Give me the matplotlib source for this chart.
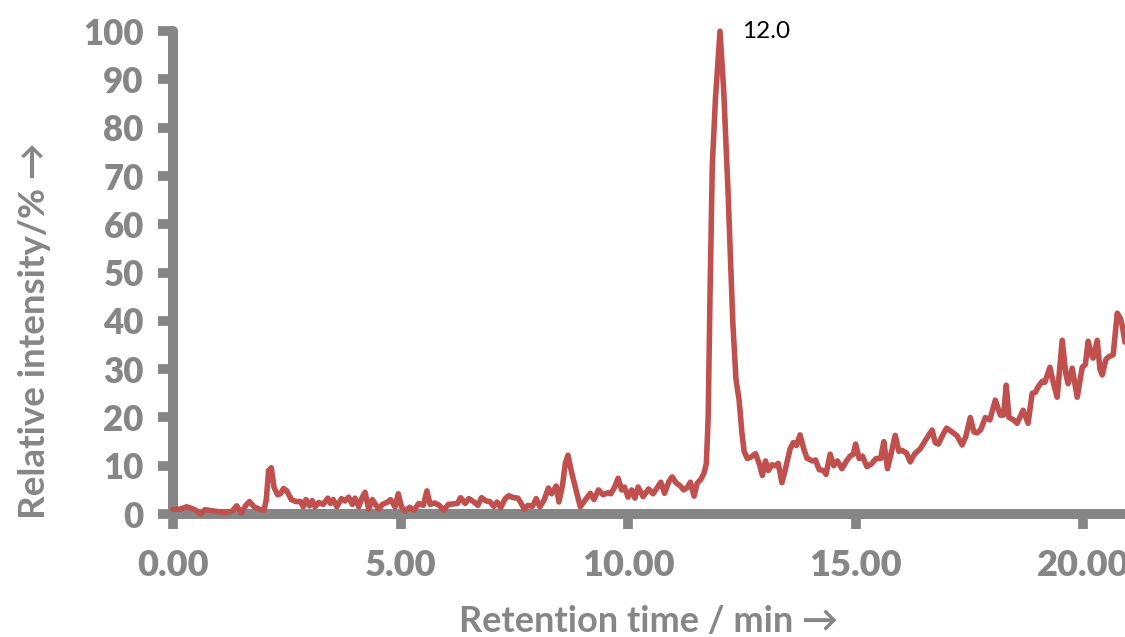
"""Chromatogram: relative intensity vs retention time."""

import matplotlib
matplotlib.use("Agg")
import matplotlib.pyplot as plt

# retention time (min) and relative intensity (%)
rt = [
    0.0, 0.15, 0.3, 0.4, 0.5, 0.6, 0.7, 0.85, 1.0, 1.15, 1.3, 1.4, 1.5, 1.6, 1.68, 1.78,
    1.9, 2.0, 2.05, 2.1, 2.16, 2.22, 2.3, 2.36, 2.43, 2.5, 2.6, 2.7, 2.8, 2.86, 2.92,
    3.0, 3.06, 3.12, 3.2, 3.3, 3.4, 3.46, 3.52, 3.6, 3.7, 3.78, 3.86, 3.94, 4.0, 4.08,
    4.15, 4.22, 4.3, 4.38, 4.45, 4.52, 4.6, 4.7, 4.78, 4.88, 4.95, 5.02, 5.1, 5.2, 5.3,
    5.4, 5.5, 5.58, 5.65, 5.75, 5.85, 5.95, 6.05, 6.15, 6.25, 6.32, 6.42, 6.5, 6.6, 6.7,
    6.78, 6.88, 6.96, 7.05, 7.12, 7.2, 7.3, 7.38, 7.48, 7.58, 7.65, 7.72, 7.8, 7.9, 7.98,
    8.06, 8.15, 8.25, 8.32, 8.42, 8.48, 8.56, 8.62, 8.68, 8.75, 8.85, 8.95, 9.05, 9.17,
    9.25, 9.35, 9.45, 9.55, 9.62, 9.7, 9.78, 9.86, 9.92, 10.0, 10.08, 10.15, 10.22,
    10.33, 10.45, 10.55, 10.65, 10.72, 10.8, 10.9, 10.97, 11.05, 11.15, 11.22, 11.3,
    11.37, 11.45, 11.52, 11.6, 11.67, 11.72, 11.76, 11.8, 11.85, 11.92, 12.02, 12.1,
    12.2, 12.3, 12.37, 12.44, 12.5, 12.55, 12.62, 12.7, 12.8, 12.88, 12.95, 13.02, 13.08,
    13.16, 13.24, 13.3, 13.38, 13.45, 13.56, 13.63, 13.7, 13.78, 13.86, 13.93, 14.05,
    14.12, 14.2, 14.3, 14.35, 14.44, 14.52, 14.6, 14.7, 14.8, 14.88, 14.95, 15.0, 15.08,
    15.15, 15.25, 15.35, 15.45, 15.55, 15.62, 15.7, 15.78, 15.87, 15.95, 16.02, 16.12,
    16.2, 16.3, 16.42, 16.55, 16.68, 16.75, 16.82, 16.92, 17.0, 17.12, 17.23, 17.34,
    17.42, 17.52, 17.6, 17.67, 17.75, 17.85, 17.95, 18.07, 18.18, 18.25, 18.31, 18.37,
    18.47, 18.55, 18.68, 18.79, 18.88, 18.95, 19.01, 19.1, 19.16, 19.27, 19.35, 19.43,
    19.54, 19.62, 19.67, 19.76, 19.87, 19.98, 20.05, 20.11, 20.18, 20.22, 20.31, 20.37,
    20.42, 20.5, 20.55, 20.66, 20.75, 20.82, 20.86, 20.92,
]
intensity = [
    1.0, 1.0, 1.5, 1.2, 0.8, 0.0, 0.9, 0.7, 0.5, 0.3, 0.6, 1.7, 0.2, 1.8, 2.6, 1.5,
    1.0, 0.8, 3.0, 9.0, 9.6, 5.5, 4.0, 4.2, 5.3, 4.8, 3.0, 2.6, 2.6, 1.5, 3.0,
    1.7, 2.8, 1.5, 2.4, 2.0, 3.3, 2.2, 3.0, 1.5, 3.2, 2.7, 3.5, 2.0, 3.3, 1.5,
    3.3, 4.5, 1.0, 3.0, 2.0, 1.0, 2.0, 2.4, 3.0, 1.5, 4.2, 1.5, 0.6, 1.4, 0.8,
    2.2, 1.8, 4.8, 2.0, 2.3, 1.8, 0.8, 2.0, 2.1, 2.2, 3.4, 2.2, 3.2, 2.6, 1.8,
    3.4, 2.7, 2.6, 1.6, 2.5, 1.3, 3.2, 3.8, 3.4, 3.3, 2.2, 1.0, 1.8, 1.6, 3.2,
    1.5, 2.8, 5.4, 4.2, 5.8, 2.5, 6.0, 10.5, 12.2, 9.0, 5.2, 1.5, 2.8, 4.3,
    3.0, 5.0, 4.0, 4.4, 4.2, 5.5, 7.4, 5.0, 5.6, 3.5, 5.0, 3.3, 5.6,
    3.6, 5.2, 4.2, 5.6, 6.6, 4.3, 6.8, 7.7, 6.5, 5.8, 5.0, 5.5,
    6.6, 3.7, 6.4, 7.2, 8.5, 10.5, 20.0, 45.0, 72.0, 86.0, 100.0, 88.0,
    66.0, 40.0, 28.0, 23.6, 17.0, 13.0, 11.5, 11.8, 12.5, 10.5, 8.0, 11.0, 9.0,
    10.2, 10.0, 10.5, 6.5, 9.0, 13.5, 14.8, 14.2, 16.4, 13.5, 11.6, 11.0,
    11.2, 9.2, 9.0, 8.2, 12.4, 10.0, 11.0, 9.4, 11.0, 12.0, 12.4, 14.5, 11.5,
    12.0, 9.8, 10.4, 11.5, 11.5, 15.0, 9.4, 12.5, 16.3, 13.0, 13.2, 12.6,
    10.8, 12.5, 13.5, 15.5, 17.4, 14.8, 14.5, 16.5, 17.8, 17.0, 16.2, 14.3,
    16.0, 20.0, 17.0, 16.8, 17.5, 20.0, 19.5, 23.6, 20.5, 20.5, 26.7, 20.0,
    19.5, 18.8, 21.5, 18.8, 25.0, 25.2, 26.3, 27.5, 27.3, 30.4, 27.0, 24.2,
    36.0, 29.0, 27.0, 30.2, 24.2, 30.4, 31.0, 35.8, 33.0, 32.3, 36.0, 30.0,
    28.8, 32.0, 32.5, 33.0, 41.6, 40.5, 39.0, 35.6,
]

x_ticks = [0, 5, 10, 15, 20]
x_labels = ["0.00", "5.00", "10.00", "15.00", "20.00"]
y_ticks = list(range(0, 101, 10))

GREY = "#868686"
RED = "#C0504D"
FONT = ["Lato", "DejaVu Sans"]

plt.rcParams["font.family"] = FONT

fig = plt.figure(figsize=(11.25, 6.37), dpi=100)
ax = fig.add_axes([0.1538, 0.193, 0.8462, 0.758])

ax.plot(rt, intensity, color=RED, linewidth=4.0, solid_joinstyle="round",
        solid_capstyle="round", clip_on=False, zorder=3)

ax.set_xlim(0, 20.92)
ax.set_ylim(0, 100)

for side in ("top", "right"):
    ax.spines[side].set_visible(False)
for side in ("left", "bottom"):
    ax.spines[side].set_color(GREY)
    ax.spines[side].set_linewidth(7.2)
    ax.spines[side].set_capstyle("round")
    ax.spines[side].set_zorder(2)

ax.set_xticks(x_ticks)
ax.set_xticklabels(x_labels)
ax.set_yticks(y_ticks)
ax.tick_params(axis="both", direction="out", length=11, width=7, color=GREY,
               labelcolor=GREY)
ax.tick_params(axis="x", pad=14, labelsize=26)
ax.tick_params(axis="y", pad=10, labelsize=25)
for lab in ax.get_xticklabels() + ax.get_yticklabels():
    lab.set_fontweight("heavy")

ax.set_xlabel("Retention time / min \u2192", color=GREY, fontsize=26,
              fontweight="bold")
ax.set_ylabel("Relative intensity/% \u2192", color=GREY, fontsize=26.5,
              fontweight="bold")
ax.xaxis.set_label_coords(0.5, -0.188)
ax.yaxis.set_label_coords(-0.128, 0.38)

ax.text(12.5, 100, "12.0", fontsize=17.5, color="black", va="center", ha="left")

fig.savefig("out.png", dpi=100)
